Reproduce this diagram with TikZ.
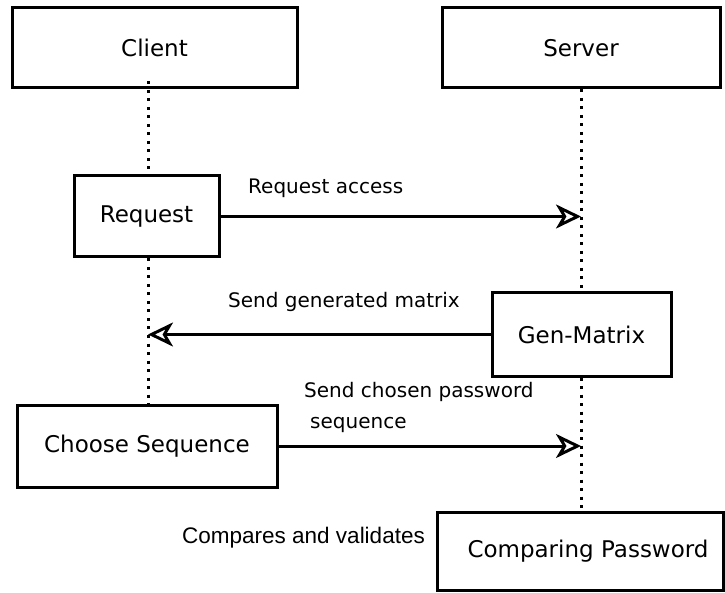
\documentclass[tikz,border=0pt]{standalone}
\usepackage{fontspec}
\setmainfont{DejaVu Sans}
\newfontfamily\narrowfont{Liberation Sans}
\usetikzlibrary{arrows.meta}
\begin{document}
\begin{tikzpicture}[x=1pt,y=-1pt,
  box/.style={draw,line width=3pt,fill=white,inner sep=0pt,font=\fontsize{23}{27}\selectfont},
  lifeline/.style={line width=3pt,dash pattern=on 3pt off 5.5pt},
  msg/.style={line width=3pt,-{Stealth[open,length=25pt,width=24pt,inset=7pt,fill=white]}},
  lbl/.style={inner sep=0pt,anchor=west,font=\fontsize{20}{31}\selectfont}]
\useasboundingbox (0,0) rectangle (725,593);
\coordinate (cl) at (148,0);
\coordinate (sl) at (581,0);
\node[box,minimum width=285pt,minimum height=80pt] (client) at (154.5,48) {Client};
\node[box,minimum width=278pt,minimum height=80pt] (server) at (581,48) {Server};
\node[box,minimum width=145pt,minimum height=81pt] (req) at (146.5,216.5) {Request};
\node[box,minimum width=179pt,minimum height=83pt] (gen) at (581.5,334.5) {Gen-Matrix};
\node[box,minimum width=260pt,minimum height=82pt] (choose) at (147,446) {Choose Sequence};
\node[box,minimum width=286pt,minimum height=78pt] (cmp) at (580,551) {\hspace*{16pt}Comparing Password};
% lifelines
\draw[lifeline] ([yshift=8pt]client.south -| cl) -- (req.north -| cl);
\draw[lifeline] (req.south -| cl) -- (choose.north -| cl);
\draw[lifeline] (server.south -| sl) -- (gen.north -| sl);
\draw[lifeline] (gen.south -| sl) -- (cmp.north -| sl);
% messages
\draw[msg] (req.east) -- (req.east -| sl);
\draw[msg] (gen.west) -- (gen.west -| cl);
\draw[msg] (choose.east) -- (choose.east -| sl);
% labels
\node[lbl] (l1) at (248,188) {Request access};
\node[lbl] (l2) at (228,302) {Send generated matrix};
\node[lbl,align=left] (l3) at (304,407) {Send chosen password\\\hspace*{6pt}sequence};
\node[lbl,font=\narrowfont\fontsize{22.5}{26}\selectfont] (l4) at (182,538) {Compares and validates};
\end{tikzpicture}
\end{document}
